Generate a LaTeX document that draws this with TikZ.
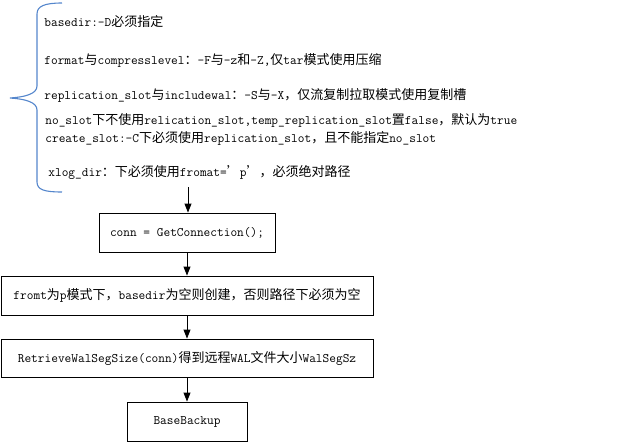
\documentclass[tikz,border=0pt]{standalone}
\usepackage{fontspec}
\newfontfamily\cjk{Noto Sans CJK SC}
\newcommand{\zh}[1]{{\cjk #1}}
\usetikzlibrary{arrows.meta}
\definecolor{bracecol}{RGB}{84,134,204}

\begin{document}
\begin{tikzpicture}[x=1pt,y=-1pt,style=thick,>={Triangle[width=7pt,length=9pt]}]
\tikzstyle{note}=[anchor=west,inner sep=0pt,font=\ttfamily\fontsize{13}{15}\selectfont]
\tikzstyle{stepbox}=[draw,line width=0.9pt,inner sep=0pt,minimum height=39pt,font=\ttfamily\fontsize{13}{15}\selectfont]
\tikzstyle{edge} = [draw,line width=0.9pt,-]

\useasboundingbox (0,0) rectangle (623,442);

% options listed behind the brace
\draw[bracecol,line width=1.1pt] (62,3) .. controls (45,3) and (37,6) .. (37,14) -- (37,86)
  .. controls (37,94) and (25,97) .. (10,98) .. controls (25,99) and (37,102) .. (37,110)
  -- (37,182) .. controls (37,190) and (45,192) .. (62,192);

\draw (44,22) node[note] (basedir) {basedir:-D\zh{必须指定}};
\draw (44,60) node[note] (format) {format\zh{与}compresslevel\zh{：}-F\zh{与}-z\zh{和}-Z,\zh{仅}tar\zh{模式使用压缩}};
\draw (44,95) node[note] (repslot) {replication\_slot\zh{与}includewal\zh{：}-S\zh{与}-X\zh{，仅流复制拉取模式使用复制槽}};
\draw (45,120) node[note] (noslot) {no\_slot\zh{下不使用}relication\_slot,temp\_replication\_slot\zh{置}false\zh{，默认为}true};
\draw (45,138) node[note] (create) {create\_slot:-C\zh{下必须使用}replication\_slot\zh{，且不能指定}no\_slot};
\draw (48,172) node[note] (xlog) {xlog\_dir\zh{：下必须使用}fromat=\zh{’}p\zh{’，必须绝对路径}};

% steps
\coordinate (start) at (188,187);
\draw (187,232.5) node[stepbox,minimum width=176pt] (conn) {conn = GetConnection();};
\draw (187,295.5) node[stepbox,minimum width=372pt] (fromt) {fromt\zh{为}p\zh{模式下，}basedir\zh{为空则创建，否则路径下必须为空}};
\draw (187,358) node[stepbox,minimum width=372pt,minimum height=38pt] (walseg) {RetrieveWalSegSize(conn)\zh{得到远程}WAL\zh{文件大小}WalSegSz};
\draw (187,421.5) node[stepbox,minimum width=120pt] (backup) {BaseBackup};

\path[edge,->] (start) -- (start |- conn.north);
\path[edge,->] (conn) -- (fromt);
\path[edge,->] (fromt) -- (walseg);
\path[edge,->] (walseg) -- (backup);
\end{tikzpicture}
\end{document}
